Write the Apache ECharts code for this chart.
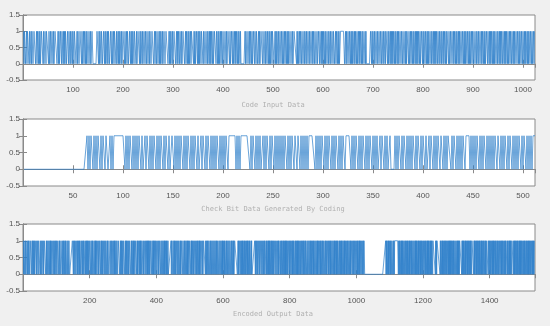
<!DOCTYPE html>
<html>
<head>
<meta charset="utf-8">
<script src="https://cdn.jsdelivr.net/npm/echarts@6/dist/echarts.min.js"></script>
<style>
html,body{margin:0;padding:0;background:#f0f0f0;}
#c{width:550px;height:326px;}
</style>
</head>
<body>
<div id="c"></div>
<script>
// Code input bits (1024), read/
const inputBitRows = [
"10110010111010010110011100101101",
"01001110100110111101001001101001",
"11100101001101101010110011011010",
"01011011100101100111010010110101",
"10011010011000000001110101101100",
"11010110101100110100101110100101",
"01101001110100101100110101011011",
"10100111010110100110110110010110",
"01110010110110010101101001100111",
"10010101101001110010101101101001",
"11001011010100101111010100110101",
"01101110100110010110101011010011",
"10110101001011011001101001110100",
"11010010101101011010000000010110",
"01101011010011011011001010011101",
"10010110110101001011100101011010",
"01101101001011010101100110100111",
"11010100101101100101101001101001",
"10101101100100110110101011010110",
"01011010011011001011010100111111",
"11001010011011010101101011010010",
"10110101100101000000001101011010",
"01101001101101101001011101011010",
"10101101011010100110110110010101",
"11010010110101101010101101001101",
"01101101010110010110101010110110",
"10010110101101011101001001101011",
"01011010100110110101011011010100",
"10110110010110100110101101010011",
"01101010110101011001011010101101",
"10101011010010110110101001101101",
"01101101101010010101101101001011"
];
// Check bits (512)
const checkBitRows = [
"00000000000000000000000000000000",
"00000000000000000000000000000001",
"01011010101101011011001010111111",
"11111010101101010101101001011010",
"10110101011010110100110101010110",
"10101101010110100101101011010101",
"01101010101101111111010101111111",
"11010110101010010101101011010101",
"01010110101011011011010101010111",
"11101010101101010110101011010101",
"10111110101011010101101010110101",
"01001011010100100001010110101101",
"01010110101101011010010110101011",
"01101010111010110101010110111101",
"01010110101011010101010110110101",
"01101011010101011010110101010111"
];
const yTicks = [-0.5, 0, 0.5, 1, 1.5];
const titles = ["Code Input Data", "Check Bit Data Generated By Coding", "Encoded Output Data"];

const inputBits = inputBitRows.join("").split("").map(Number);
const checkBits = checkBitRows.join("").split("").map(Number);
const encodedBits = inputBits.concat(checkBits);

const toXY = arr => arr.map((v, i) => [i + 1, v]);
const sets = [inputBits, checkBits, encodedBits];
const xMax = [1024, 512, 1536];
const xInt = [100, 50, 200];
const tops = [15, 119, 224];
const H = [65, 67, 67];

const grids = [], xAxes = [], yAxes = [], series = [];
const axisCol = '#8a8a8a';
const lblCol = '#555';
sets.forEach((d, k) => {
  grids.push({left: 23, right: 15, top: tops[k], height: H[k], show: true,
    backgroundColor: '#ffffff', borderColor: axisCol, borderWidth: 1});
  const xBase = {gridIndex: k, type: 'value', min: 0, max: xMax[k], interval: xInt[k],
    axisLine: {show: true, lineStyle: {color: axisCol}},
    axisTick: {show: true, inside: true, length: 4, lineStyle: {color: axisCol}},
    splitLine: {show: false}};
  xAxes.push(Object.assign({}, xBase, {position: 'bottom',
    axisLabel: {show: true, showMinLabel: false, showMaxLabel: false, color: lblCol, fontSize: 8,
      fontFamily: 'Liberation Sans', margin: 6, formatter: v => String(v)}}));
  xAxes.push(Object.assign({}, xBase, {position: 'top', axisLabel: {show: false}}));
  const yBase = {gridIndex: k, type: 'value', min: yTicks[0], max: yTicks[yTicks.length - 1], interval: 0.5,
    axisLine: {show: true, lineStyle: {color: axisCol}},
    axisTick: {show: true, inside: true, length: 4, lineStyle: {color: axisCol}},
    splitLine: {show: false}};
  yAxes.push(Object.assign({}, yBase, {position: 'left',
    axisLabel: {show: true, color: lblCol, fontSize: 8, fontFamily: 'Liberation Sans', margin: 3,
      formatter: v => String(v)}}));
  yAxes.push(Object.assign({}, yBase, {position: 'right', axisLabel: {show: false}}));
  series.push({type: 'line', xAxisIndex: 2 * k, yAxisIndex: 2 * k, data: toXY(d),
    showSymbol: false, symbol: 'none', animation: false,
    lineStyle: {color: '#2a7cc8', width: 0.7}});
});

const chart = echarts.init(document.getElementById('c'), null, {renderer: 'canvas'});
chart.setOption({
  backgroundColor: '#f0f0f0',
  animation: false,
  grid: grids,
  xAxis: xAxes,
  yAxis: yAxes,
  series: series,
  graphic: titles.map((t, k) => ({type: 'text', x: 273, y: [105, 209, 314][k],
    style: {text: t, textAlign: 'center', textVerticalAlign: 'middle',
      fill: '#b0b0b0', font: '7px "DejaVu Sans Mono"'}}))
});
</script>
</body>
</html>
